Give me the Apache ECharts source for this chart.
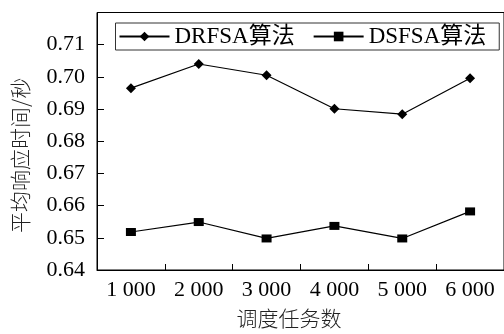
<!DOCTYPE html>
<html>
<head>
<meta charset="utf-8">
<script src="https://cdn.jsdelivr.net/npm/echarts@6/dist/echarts.min.js"></script>
<style>
  html, body { margin: 0; padding: 0; background: #fff; }
  #chart { width: 504px; height: 334px; }
</style>
</head>
<body>
<div id="chart"></div>
<script>
// Scheduling task counts (x axis categories)
const taskCounts = ['1 000', '2 000', '3 000', '4 000', '5 000', '6 000'];
// Average response time (seconds) for each algorithm
const drfsaTimes = [0.6965, 0.7040, 0.7005, 0.6901, 0.6884, 0.6996];
const dsfsaTimes = [0.6518, 0.6549, 0.6498, 0.6537, 0.6498, 0.6582];
const seriesNames = ['DRFSA算法', 'DSFSA算法'];
const yTicks = { min: 0.64, max: 0.72, step: 0.01 };

const FONT = "'Liberation Serif', 'Times New Roman', 'Noto Sans CJK SC', serif";
const CJK_FONT = "'Noto Sans CJK SC', 'Liberation Serif', serif";

const chart = echarts.init(document.getElementById('chart'), null, { renderer: 'canvas' });

chart.setOption({
  animation: false,
  backgroundColor: '#fff',
  grid: {
    left: 97, top: 12.5, width: 409, height: 260,
    show: true, borderColor: '#000', borderWidth: 1
  },
  legend: {
    data: seriesNames,
    left: 115.5, top: 23,
    orient: 'horizontal',
    itemWidth: 50, itemHeight: 12, itemGap: 18,
    padding: [2, 13, 2, 3],
    borderColor: '#333', borderWidth: 1,
    textStyle: { fontFamily: FONT, fontSize: 23, color: '#000' }
  },
  xAxis: {
    type: 'category',
    data: taskCounts,
    boundaryGap: true,
    name: '调度任务数',
    nameLocation: 'middle',
    nameGap: 38,
    nameTextStyle: { fontFamily: CJK_FONT, fontSize: 21, color: '#222', fontWeight: 300, padding: [0, 23, 0, 0] },
    axisLine: { lineStyle: { color: '#000', width: 1 } },
    axisTick: { show: true, inside: true, length: 6, alignWithLabel: false, lineStyle: { color: '#000' } },
    axisLabel: { fontFamily: FONT, fontSize: 22, color: '#000', margin: 9 },
    splitLine: { show: false }
  },
  yAxis: {
    type: 'value',
    min: yTicks.min, max: yTicks.max, interval: yTicks.step,
    name: '平均响应时间/秒',
    nameLocation: 'middle',
    nameRotate: 90,
    nameGap: 66,
    nameTextStyle: { fontFamily: CJK_FONT, fontSize: 21, color: '#222', fontWeight: 300, padding: [0, 28, 0, 0] },
    axisLine: { show: true, lineStyle: { color: '#000', width: 1 } },
    axisTick: { show: true, inside: true, length: 7, lineStyle: { color: '#000' } },
    axisLabel: {
      fontFamily: FONT, fontSize: 22, color: '#000', margin: 12,
      showMaxLabel: false,
      formatter: v => v.toFixed(2)
    },
    splitLine: { show: false }
  },
  series: [
    {
      name: seriesNames[0], type: 'line', data: drfsaTimes,
      symbol: 'diamond', symbolSize: [10, 10],
      lineStyle: { color: '#000', width: 1.2 },
      itemStyle: { color: '#000' }
    },
    {
      name: seriesNames[1], type: 'line', data: dsfsaTimes,
      symbol: 'rect', symbolSize: [10, 8],
      lineStyle: { color: '#000', width: 1.2 },
      itemStyle: { color: '#000' }
    }
  ]
});
</script>
</body>
</html>
